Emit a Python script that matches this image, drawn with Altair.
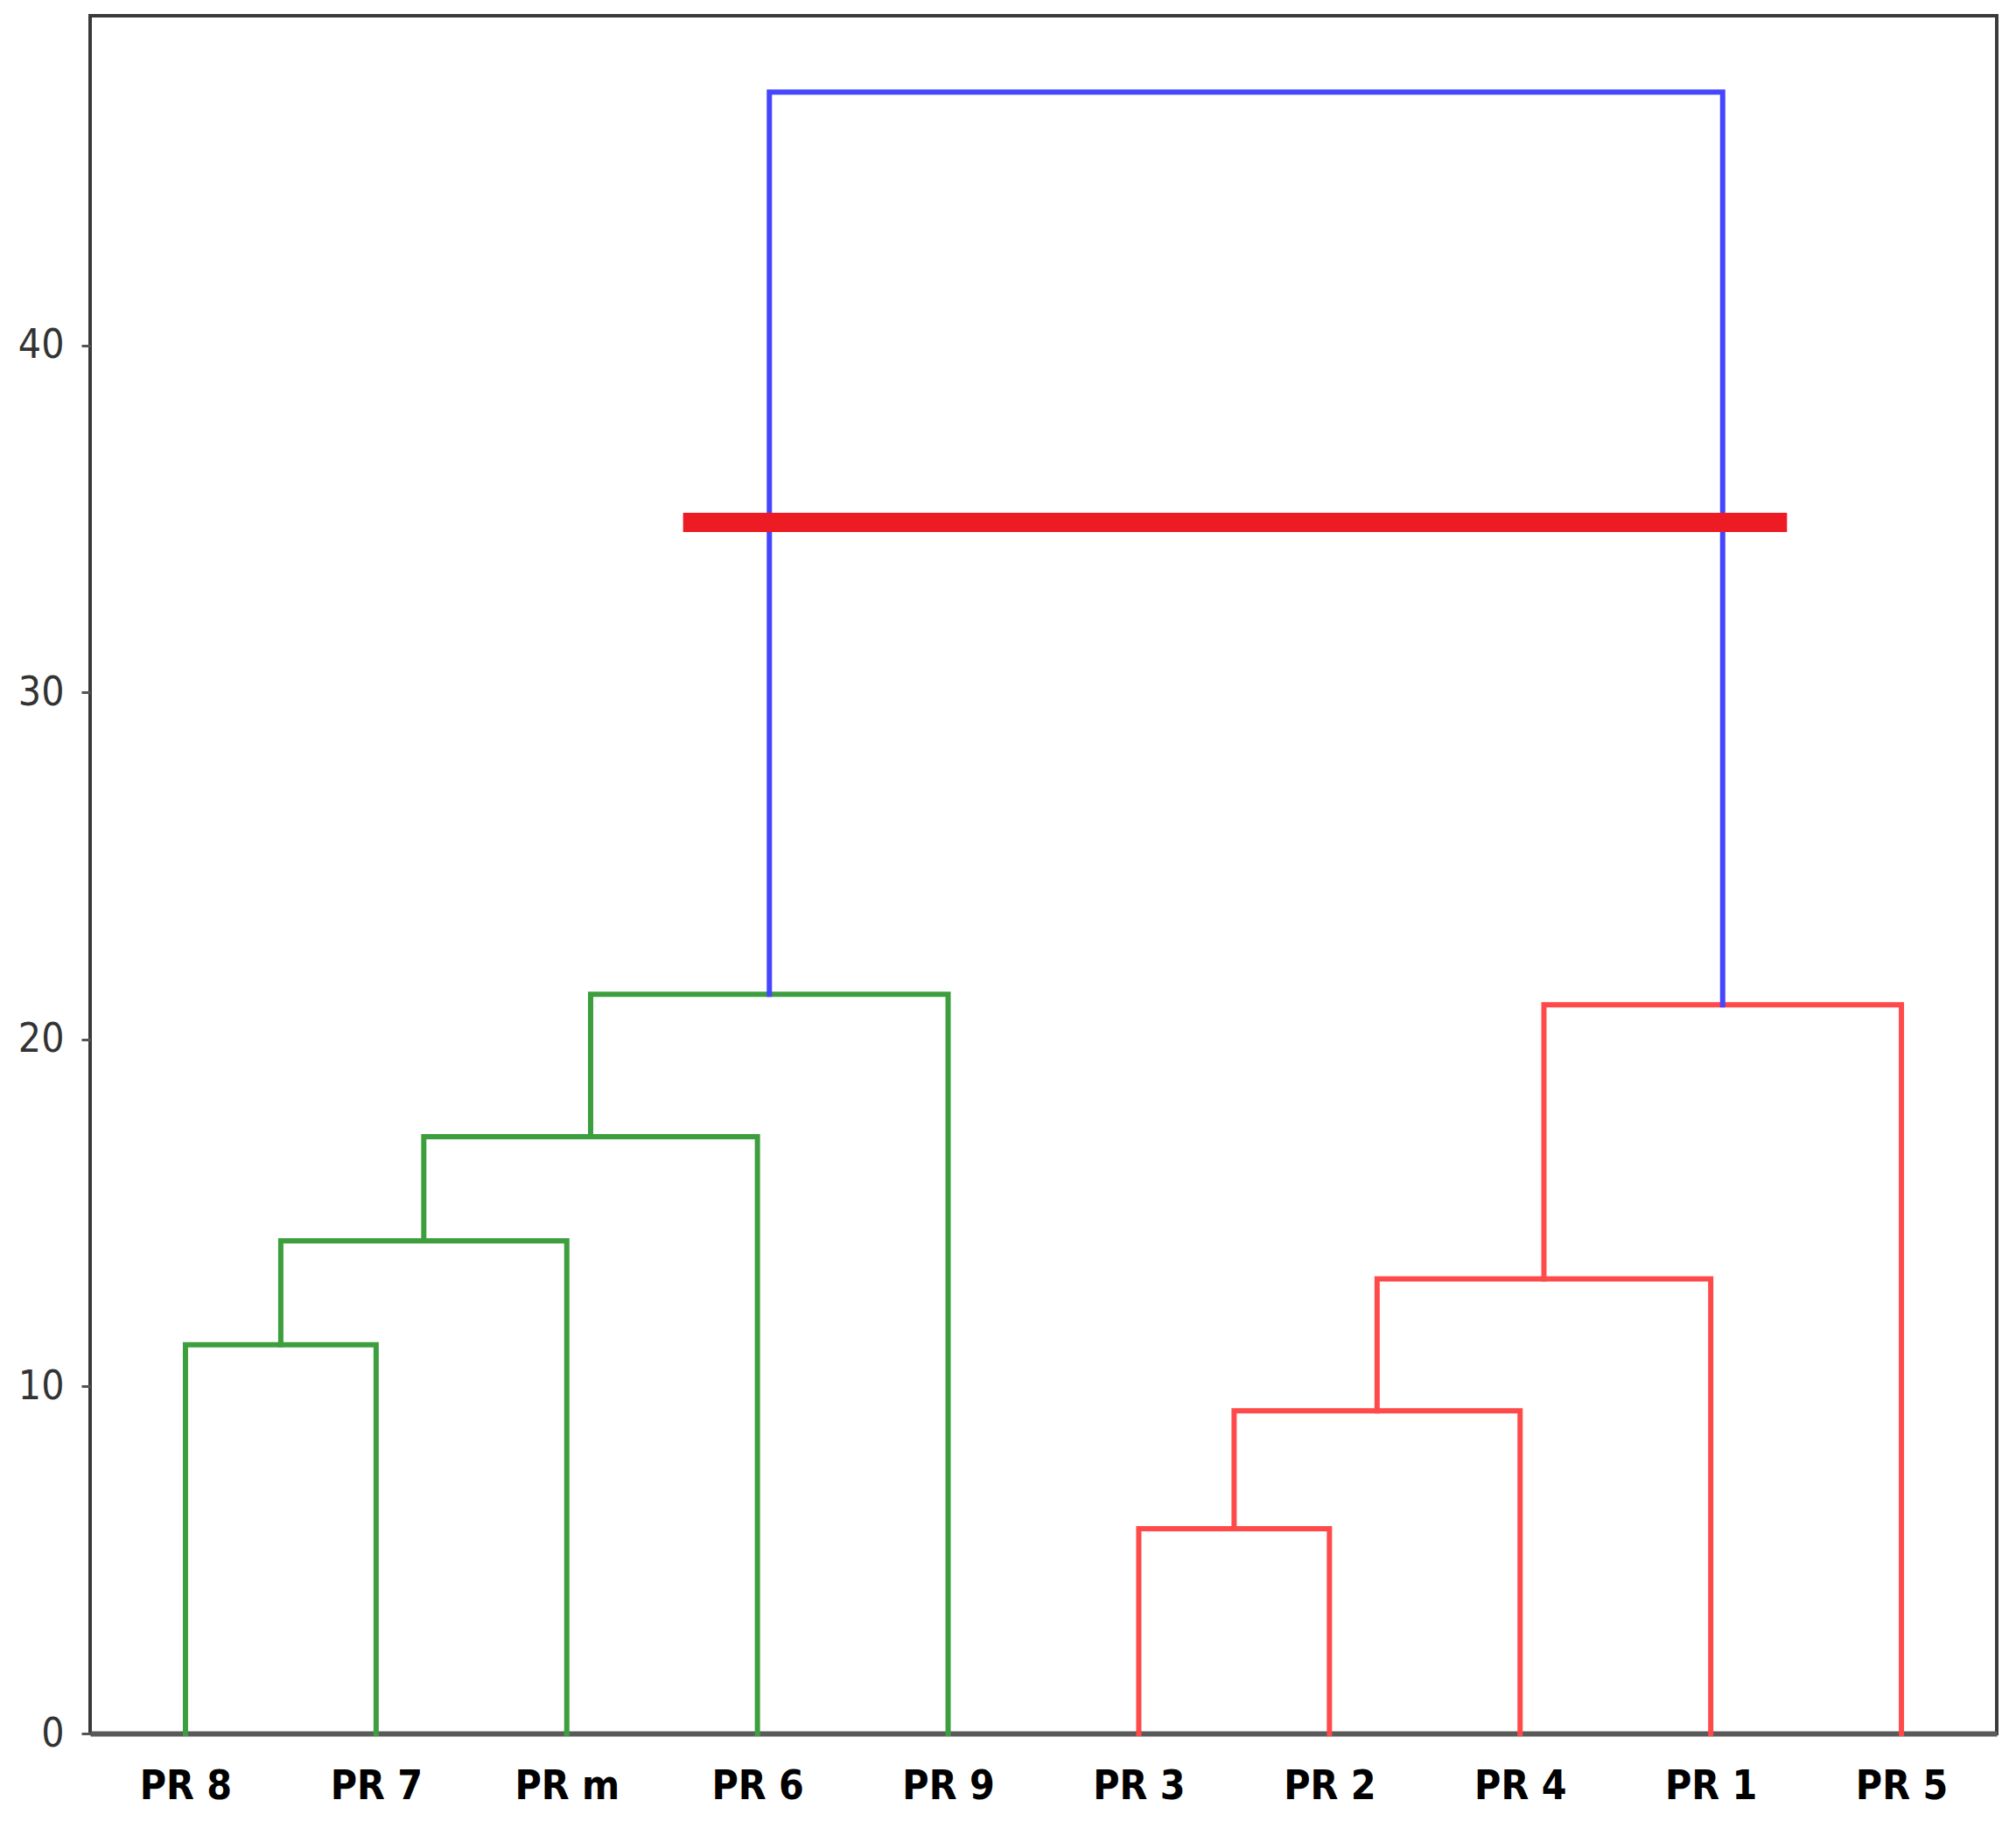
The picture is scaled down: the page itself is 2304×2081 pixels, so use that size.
import altair as alt
import pandas as pd

# Leaves, in dendrogram order (scipy convention: leaf i at x = 5 + 10*i)
leaf_labels = ["PR 8", "PR 7", "PR m", "PR 6", "PR 9", "PR 3", "PR 2", "PR 4", "PR 1", "PR 5"]
leaf_pos = [5, 15, 25, 35, 45, 55, 65, 75, 85, 95]

# Links (icoord / dcoord style: 4 points per link)
link_x = [
    [5, 5, 15, 15],
    [10, 10, 25, 25],
    [17.5, 17.5, 35, 35],
    [26.25, 26.25, 45, 45],
    [55, 55, 65, 65],
    [60, 60, 75, 75],
    [67.5, 67.5, 85, 85],
    [76.25, 76.25, 95, 95],
    [35.625, 35.625, 85.625, 85.625],
]
link_y = [
    [0, 11.2, 11.2, 0],
    [11.2, 14.2, 14.2, 0],
    [14.2, 17.2, 17.2, 0],
    [17.2, 21.3, 21.3, 0],
    [0, 5.9, 5.9, 0],
    [5.9, 9.3, 9.3, 0],
    [9.3, 13.1, 13.1, 0],
    [13.1, 21.0, 21.0, 0],
    [21.3, 47.3, 47.3, 21.0],
]
link_cluster = ["g", "g", "g", "g", "r", "r", "r", "r", "b"]

cluster_names = ["g", "r", "b"]
cluster_colors = ["#3d9e3d", "#ff4a4a", "#4646ff"]

# Cut line
cut_height = [34.9]
cut_x_start = [31.1]
cut_x_end = [89.0]

y_ticks = [0, 10, 20, 30, 40]

rows = []
for i, (xs, ys) in enumerate(zip(link_x, link_y)):
    for j, (xv, yv) in enumerate(zip(xs, ys)):
        rows.append({"link": i, "order": j, "x": xv, "y": yv, "cluster": link_cluster[i]})
links_df = pd.DataFrame(rows)

cut_df = pd.DataFrame({"x": cut_x_start, "x2": cut_x_end, "y": cut_height})

label_array = "[" + ",".join("'" + l + "'" for l in leaf_labels) + "]"

x_scale = alt.Scale(domain=[0, 100], nice=False, zero=False)
y_scale = alt.Scale(domain=[0, 49.5], nice=False)

lines = alt.Chart(links_df).mark_line(strokeWidth=6, strokeCap="square", strokeJoin="miter").encode(
    x=alt.X("x:Q", scale=x_scale, axis=alt.Axis(
        values=leaf_pos,
        labelExpr=label_array + "[round((datum.value-5)/10)]",
        title=None, grid=False, ticks=False,
        domain=True, domainColor="#5a5a5a", domainWidth=6,
        labelFont="Liberation Sans Narrow, DejaVu Sans Condensed, sans-serif",
        labelFontSize=46, labelFontWeight="bold", labelColor="#000000",
        labelPadding=38, labelBaseline="top",
    )),
    y=alt.Y("y:Q", scale=y_scale, axis=alt.Axis(
        values=y_ticks, title=None, grid=False,
        ticks=True, tickSize=10, tickColor="#555555", tickWidth=3,
        domain=False,
        labelFont="Liberation Sans Narrow, DejaVu Sans Condensed, sans-serif",
        labelFontSize=46, labelColor="#333333", labelPadding=20,
    )),
    detail="link:N",
    order="order:Q",
    color=alt.Color("cluster:N", scale=alt.Scale(domain=cluster_names, range=cluster_colors), legend=None),
)

cut = alt.Chart(cut_df).mark_rule(color="#ed1c24", strokeWidth=22, strokeCap="butt").encode(
    x=alt.X("x:Q", scale=x_scale),
    x2="x2:Q",
    y=alt.Y("y:Q", scale=y_scale),
)

chart = alt.layer(lines, cut).properties(
    width=2179,
    height=1963,
    autosize=alt.AutoSizeParams(type="none"),
    padding={"left": 95, "top": 10, "right": 14, "bottom": 92},
).configure(background="white").configure_view(stroke="#3a3a3a", strokeWidth=4)

chart.save("out.html", embed_options={"renderer": "svg", "actions": False})
